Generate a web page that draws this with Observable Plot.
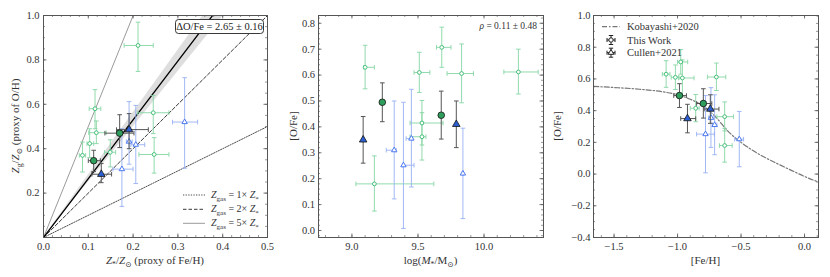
<!DOCTYPE html>
<html><head><meta charset="utf-8">
<script src="https://cdn.jsdelivr.net/npm/d3@7"></script>
<script src="https://cdn.jsdelivr.net/npm/@observablehq/plot@0.6"></script>
<style>
body{margin:0;background:#fff;}
#wrap{position:relative;width:830px;height:277px;overflow:hidden;}
#wrap svg{position:absolute;top:0;}
</style></head><body><div id="wrap"></div>
<script>
// ---------- Panel 1 data: Z*/Zsun (x) vs Zg/Zsun (y) ----------
const p1_tw_x   = [0.211, 0.115, 0.118, 0.103, 0.087, 0.149, 0.245, 0.247];
const p1_tw_xlo = [0.180, 0.102, 0.101, 0.097, 0.080, 0.136, 0.210, 0.213];
const p1_tw_xhi = [0.245, 0.128, 0.140, 0.112, 0.094, 0.161, 0.280, 0.280];
const p1_tw_y   = [0.865, 0.580, 0.472, 0.423, 0.370, 0.384, 0.562, 0.374];
const p1_tw_ylo = [0.748, 0.490, 0.423, 0.360, 0.295, 0.318, 0.468, 0.290];
const p1_tw_yhi = [0.970, 0.666, 0.525, 0.490, 0.430, 0.440, 0.640, 0.450];

const p1_cu_x   = [0.315, 0.191, 0.206, 0.175];
const p1_cu_xlo = [0.288, 0.185, 0.195, 0.155];
const p1_cu_xhi = [0.344, 0.198, 0.226, 0.200];
const p1_cu_y   = [0.520, 0.432, 0.418, 0.308];
const p1_cu_ylo = [0.312, 0.330, 0.243, 0.140];
const p1_cu_yhi = [0.720, 0.612, 0.595, 0.490];

const p1_twS_x   = [0.112, 0.170];
const p1_twS_xlo = [0.100, 0.137];
const p1_twS_xhi = [0.127, 0.202];
const p1_twS_y   = [0.346, 0.470];
const p1_twS_ylo = [0.297, 0.405];
const p1_twS_yhi = [0.393, 0.553];

const p1_cuS_x   = [0.129, 0.191];
const p1_cuS_xlo = [0.108, 0.163];
const p1_cuS_xhi = [0.152, 0.234];
const p1_cuS_y   = [0.285, 0.486];
const p1_cuS_ylo = [0.247, 0.400];
const p1_cuS_yhi = [0.333, 0.558];

const gasRatios = [1, 2, 5];
const fitSlope = 2.65, fitErr = 0.16;
const lineX = [0, 0.5];

// ---------- Panel 2 data: log(M*/Msun) (x) vs [O/Fe] (y) ----------
const p2_tw_x   = [9.10, 9.51, 9.68, 9.83, 10.26, 9.53, 9.53, 9.17];
const p2_tw_xlo = [9.09, 9.47, 9.64, 9.72, 10.15, 9.44, 9.44, 9.03];
const p2_tw_xhi = [9.17, 9.59, 9.75, 9.92, 10.41, 9.69, 9.56, 9.62];
const ofe_tw    = [0.630, 0.610, 0.707, 0.606, 0.612, 0.415, 0.362, 0.180];
const ofe_tw_lo = [0.547, 0.533, 0.630, 0.493, 0.527, 0.330, 0.272, 0.075];
const ofe_tw_hi = [0.715, 0.688, 0.785, 0.720, 0.700, 0.502, 0.455, 0.288];

const p2_cu_x   = [9.32, 9.39, 9.45, 9.84];
const p2_cu_xlo = [9.26, 9.385, 9.41, 9.835];
const p2_cu_xhi = [9.335, 9.47, 9.46, 9.845];
const ofe_cu    = [0.310, 0.252, 0.355, 0.220];
const ofe_cu_lo = [0.122, 0.008, 0.168, 0.046];
const ofe_cu_hi = [0.500, 0.495, 0.545, 0.395];

const p2_twS_x  = [9.23, 9.676];
const ofe_twS    = [0.495, 0.445];
const ofe_twS_lo = [0.420, 0.353];
const ofe_twS_hi = [0.570, 0.538];
const p2_cuS_x  = [9.085, 9.79];
const ofe_cuS    = [0.350, 0.410];
const ofe_cuS_lo = [0.260, 0.320];
const ofe_cuS_hi = [0.440, 0.500];

// ---------- Panel 3 data: [Fe/H] (x) vs [O/Fe] (y) ----------
const p3_tw_x   = [-1.09, -1.017, -0.975, -0.962, -0.694, -0.857, -0.629, -0.629];
const p3_tw_xlo = [-1.12, -1.05, -1.00, -0.99, -0.765, -0.90, -0.69, -0.67];
const p3_tw_xhi = [-1.06, -0.99, -0.92, -0.87, -0.62, -0.83, -0.56, -0.57];
const p3_cu_x   = [-0.708, -0.780, -0.737, -0.514];
const p3_cu_xlo = [-0.725, -0.85, -0.755, -0.55];
const p3_cu_xhi = [-0.690, -0.71, -0.720, -0.48];
const p3_twS_x   = [-0.985, -0.797];
const p3_twS_xlo = [-1.03, -0.85];
const p3_twS_xhi = [-0.93, -0.73];
const p3_cuS_x   = [-0.922, -0.742];
const p3_cuS_xlo = [-0.975, -0.79];
const p3_cuS_xhi = [-0.857, -0.674];

const kob_x = [-1.66, -1.5, -1.3, -1.1, -1.0, -0.9, -0.8, -0.7, -0.6, -0.5, -0.4, -0.3, -0.2, -0.1, 0.0, 0.11];
const kob_y = [0.553, 0.546, 0.535, 0.517, 0.500, 0.472, 0.430, 0.360, 0.268, 0.200, 0.145, 0.100, 0.060, 0.022, -0.015, -0.050];

// ---------- tick labels ----------
const p1_xticks = [0, 0.1, 0.2, 0.3, 0.4, 0.5];
const p1_yticks = [0.2, 0.4, 0.6, 0.8, 1.0];
const p2_xticks = [9.0, 9.5, 10.0];
const p2_yticks = [0, 0.1, 0.2, 0.3, 0.4, 0.5, 0.6, 0.7, 0.8];
const p3_xticks = [-1.5, -1.0, -0.5, 0.0];
const p3_yticks = [-0.4, -0.2, 0, 0.2, 0.4, 0.6, 0.8, 1.0];

// ---------- styles ----------
const FONT = "'Liberation Serif', 'DejaVu Serif', serif";
const AX = "#555";
const G_EDGE = "#45c07a", G_ERR = "#86d6a4", G_FILL = "#2f9e5c";
const B_EDGE = "#4c79ee", B_ERR = "#98b0f4", B_FILL = "#2c5fd1";
const BIG_ERR = "#555";

const capH = {draw(ctx){ ctx.moveTo(-2.3, 0); ctx.lineTo(2.3, 0); }};
const capV = {draw(ctx){ ctx.moveTo(0, -2.3); ctx.lineTo(0, 2.3); }};

function rng(a, b, s){ const out=[]; for (let v=a; v<=b+1e-9; v+=s) out.push(+v.toFixed(4)); return out; }

function errMarks(X, XL, XH, Y, YL, YH, color, sw=1, op=1) {
  const idx = d3.range(X.length);
  const m = [];
  if (XL) {
    m.push(Plot.link(idx, {x1: i=>XL[i], x2: i=>XH[i], y1: i=>Y[i], y2: i=>Y[i], stroke: color, strokeWidth: sw, strokeOpacity: op}));
    m.push(Plot.dot(idx, {x: i=>XL[i], y: i=>Y[i], symbol: capV, fill: "none", stroke: color, strokeWidth: sw, strokeOpacity: op}));
    m.push(Plot.dot(idx, {x: i=>XH[i], y: i=>Y[i], symbol: capV, fill: "none", stroke: color, strokeWidth: sw, strokeOpacity: op}));
  }
  m.push(Plot.link(idx, {x1: i=>X[i], x2: i=>X[i], y1: i=>YL[i], y2: i=>YH[i], stroke: color, strokeWidth: sw, strokeOpacity: op}));
  m.push(Plot.dot(idx, {x: i=>X[i], y: i=>YL[i], symbol: capH, fill: "none", stroke: color, strokeWidth: sw, strokeOpacity: op}));
  m.push(Plot.dot(idx, {x: i=>X[i], y: i=>YH[i], symbol: capH, fill: "none", stroke: color, strokeWidth: sw, strokeOpacity: op}));
  return m;
}
function pts(X, Y, sym, r, fill, stroke, sw) {
  const idx = d3.range(X.length);
  return Plot.dot(idx, {x: i=>X[i], y: i=>Y[i], symbol: sym, r, fill, stroke, strokeWidth: sw});
}

const MT = 15, MB = 40, H = 277;
function panel(cfg) {
  const pw = cfg.width - cfg.ml - cfg.mr, ph = H - MT - MB;
  const inDom = (d, dom) => v => v >= dom[0] - 1e-9 && v <= dom[1] + 1e-9;
  const xMaj = cfg.xMaj.filter(inDom(0, cfg.xdom)), xMin = cfg.xMin.filter(inDom(0, cfg.xdom));
  const yMaj = cfg.yMaj.filter(inDom(0, cfg.ydom)), yMin = cfg.yMin.filter(inDom(0, cfg.ydom));
  const TL = 3.5, TS = 2;
  const tickMarks = [
    Plot.ruleX(xMaj, {insetTop: ph - TL, stroke: AX, strokeWidth: 0.8}),
    Plot.ruleX(xMaj, {insetBottom: ph - TL, stroke: AX, strokeWidth: 0.8}),
    Plot.ruleX(xMin, {insetTop: ph - TS, stroke: AX, strokeWidth: 0.6}),
    Plot.ruleX(xMin, {insetBottom: ph - TS, stroke: AX, strokeWidth: 0.6}),
    Plot.ruleY(yMaj, {insetRight: pw - TL, stroke: AX, strokeWidth: 0.8}),
    Plot.ruleY(yMaj, {insetLeft: pw - TL, stroke: AX, strokeWidth: 0.8}),
    Plot.ruleY(yMin, {insetRight: pw - TS, stroke: AX, strokeWidth: 0.6}),
    Plot.ruleY(yMin, {insetLeft: pw - TS, stroke: AX, strokeWidth: 0.6})
  ];
  const svg = Plot.plot({
    width: cfg.width, height: H,
    marginLeft: cfg.ml, marginRight: cfg.mr, marginTop: MT, marginBottom: MB,
    style: {fontFamily: FONT, fontSize: "10.5px", color: "#333", background: "white", overflow: "visible"},
    x: {domain: cfg.xdom, ticks: cfg.xLabels, tickSize: 0, tickPadding: 5, tickFormat: cfg.xfmt, label: null},
    y: {domain: cfg.ydom, ticks: cfg.yLabels, tickSize: 0, tickPadding: cfg.ypad ?? 4, tickFormat: cfg.yfmt, label: null},
    marks: [...cfg.marks, ...tickMarks, Plot.frame({stroke: AX, strokeWidth: 1})]
  });
  svg.style.left = cfg.left + "px";
  document.getElementById("wrap").appendChild(svg);
  return d3.select(svg);
}

function rich(parent, segs, attrs) {
  const t = parent.append("text").attr("text-anchor", "start");
  for (const [k, v] of Object.entries(attrs)) t.attr(k, v);
  let shift = 0;
  for (const s of segs) {
    const ts = t.append("tspan").text(s.t);
    const want = s.sub ? 2.6 : 0;
    if (want !== shift) { ts.attr("dy", want - shift); shift = want; }
    if (s.it) ts.attr("font-style", "italic");
    if (s.sub) ts.attr("font-size", "0.7em");
  }
  return t;
}
const fmt1 = d3.format(".1f");

// ================= Panel 1 =================
{
  const band = Plot.areaY(lineX, {x: d=>d, y1: d=>d*(fitSlope-fitErr), y2: d=>d*(fitSlope+fitErr), fill: "#c8c8c8", fillOpacity: 0.6, clip: true});
  const styles = {1: {stroke:"#222", strokeWidth:0.8, strokeDasharray:"1.3,1.3"},
                  2: {stroke:"#222", strokeWidth:0.9, strokeDasharray:"3.5,2"},
                  5: {stroke:"#555", strokeWidth:0.6}};
  const ratioLines = gasRatios.map(k => Plot.line(lineX, {x: d=>d, y: d=>k*d, clip: true, ...styles[k]}));
  const fitLine = Plot.line(lineX, {x: d=>d, y: d=>fitSlope*d, stroke: "#000", strokeWidth: 1.3, clip: true});
  const s = panel({
    left: 0, width: 277, ml: 43, mr: 10,
    xdom: [0, 0.5], ydom: [0, 1.0],
    xLabels: p1_xticks, yLabels: p1_yticks, xfmt: fmt1, yfmt: fmt1,
    xMaj: p1_xticks, xMin: rng(0, 0.5, 0.02), yMaj: rng(0, 1, 0.2), yMin: rng(0, 1, 0.05),
    marks: [
      band, ...ratioLines, fitLine,
      ...errMarks(p1_tw_x, p1_tw_xlo, p1_tw_xhi, p1_tw_y, p1_tw_ylo, p1_tw_yhi, G_ERR, 1, 0.9),
      ...errMarks(p1_cu_x, p1_cu_xlo, p1_cu_xhi, p1_cu_y, p1_cu_ylo, p1_cu_yhi, B_ERR, 1, 0.9),
      pts(p1_tw_x, p1_tw_y, "circle", 1.9, "white", G_EDGE, 1),
      pts(p1_cu_x, p1_cu_y, "triangle", 2.0, "white", B_EDGE, 1),
      ...errMarks(p1_twS_x, p1_twS_xlo, p1_twS_xhi, p1_twS_y, p1_twS_ylo, p1_twS_yhi, BIG_ERR, 1, 1),
      ...errMarks(p1_cuS_x, p1_cuS_xlo, p1_cuS_xhi, p1_cuS_y, p1_cuS_ylo, p1_cuS_yhi, BIG_ERR, 1, 1),
      pts(p1_twS_x, p1_twS_y, "circle", 3.3, G_FILL, "#111", 0.8),
      pts(p1_cuS_x, p1_cuS_y, "triangle", 2.8, B_FILL, "#111", 0.8)
    ]
  });
  rich(s, [{t:"Z",it:1},{t:"*",sub:1},{t:"/"},{t:"Z",it:1},{t:"⊙",sub:1},{t:" (proxy of Fe/H)"}],
       {x: 155, y: 264, "text-anchor": "middle", "font-family": FONT, "font-size": 11, fill: "#333"});
  rich(s, [{t:"Z",it:1},{t:"g",sub:1},{t:"/"},{t:"Z",it:1},{t:"⊙",sub:1},{t:" (proxy of O/H)"}],
       {transform: "translate(19,126) rotate(-90)", "text-anchor": "middle", "font-family": FONT, "font-size": 11, fill: "#333"});
  // annotation box
  s.append("rect").attr("x", 175.5).attr("y", 19.5).attr("width", 88).attr("height", 14).attr("rx", 3)
    .attr("fill", "white").attr("stroke", "#222").attr("stroke-width", 0.9);
  s.append("text").attr("x", 219.5).attr("y", 30).attr("text-anchor", "middle")
    .attr("font-family", FONT).attr("font-size", 10.5).attr("fill", "#222").text("ΔO/Fe = 2.65 ± 0.16");
  // legend
  const legY = [195, 209.3, 223.3];
  const legSt = [{d:"1.3,1.3", w:0.8, c:"#222"}, {d:"3.5,2", w:0.9, c:"#222"}, {d:null, w:0.6, c:"#555"}];
  gasRatios.forEach((k, i) => {
    const l = s.append("line").attr("x1", 183).attr("x2", 205).attr("y1", legY[i]).attr("y2", legY[i])
      .attr("stroke", legSt[i].c).attr("stroke-width", legSt[i].w);
    if (legSt[i].d) l.attr("stroke-dasharray", legSt[i].d);
    rich(s, [{t:"Z",it:1},{t:"gas",sub:1},{t:" = " + k + "× "},{t:"Z",it:1},{t:"*",sub:1}],
      {x: 211, y: legY[i] + 3, "font-family": FONT, "font-size": 10, fill: "#333"});
  });
}

// ================= Panel 2 =================
{
  const s = panel({
    left: 277, width: 277, ml: 41, mr: 11,
    xdom: [8.747, 10.45], ydom: [-0.027, 0.83],
    xLabels: p2_xticks, yLabels: p2_yticks, xfmt: fmt1, yfmt: fmt1, ypad: 3.5,
    xMaj: p2_xticks, xMin: rng(8.8, 10.4, 0.1), yMaj: p2_yticks, yMin: rng(-0.02, 0.82, 0.02),
    marks: [
      ...errMarks(p2_tw_x, p2_tw_xlo, p2_tw_xhi, ofe_tw, ofe_tw_lo, ofe_tw_hi, G_ERR, 1, 0.9),
      ...errMarks(p2_cu_x, p2_cu_xlo, p2_cu_xhi, ofe_cu, ofe_cu_lo, ofe_cu_hi, B_ERR, 1, 0.9),
      pts(p2_tw_x, ofe_tw, "circle", 1.9, "white", G_EDGE, 1),
      pts(p2_cu_x, ofe_cu, "triangle", 2.0, "white", B_EDGE, 1),
      ...errMarks(p2_twS_x, null, null, ofe_twS, ofe_twS_lo, ofe_twS_hi, BIG_ERR, 1, 1),
      ...errMarks(p2_cuS_x, null, null, ofe_cuS, ofe_cuS_lo, ofe_cuS_hi, BIG_ERR, 1, 1),
      pts(p2_twS_x, ofe_twS, "circle", 3.3, G_FILL, "#111", 0.8),
      pts(p2_cuS_x, ofe_cuS, "triangle", 2.8, B_FILL, "#111", 0.8)
    ]
  });
  rich(s, [{t:"log("},{t:"M",it:1},{t:"*",sub:1},{t:"/M"},{t:"⊙",sub:1},{t:")"}],
       {x: 153.5, y: 264, "text-anchor": "middle", "font-family": FONT, "font-size": 11, fill: "#333"});
  s.append("text").attr("transform", "translate(20,126) rotate(-90)").attr("text-anchor", "middle")
    .attr("font-family", FONT).attr("font-size", 11).attr("fill", "#333").text("[O/Fe]");
  rich(s, [{t:"ρ",it:1},{t:" = 0.11 ± 0.48"}],
       {x: 260, y: 29, "text-anchor": "end", "font-family": FONT, "font-size": 9.5, fill: "#333"});
}

// ================= Panel 3 =================
{
  const s = panel({
    left: 554, width: 276, ml: 39, mr: 12,
    xdom: [-1.662, 0.11], ydom: [-0.4, 1.0],
    xLabels: p3_xticks, yLabels: p3_yticks, xfmt: fmt1, yfmt: fmt1, ypad: 3,
    xMaj: p3_xticks, xMin: rng(-1.6, 0.1, 0.1), yMaj: p3_yticks, yMin: rng(-0.4, 1.0, 0.05),
    marks: [
      Plot.line(d3.range(kob_x.length), {x: i=>kob_x[i], y: i=>kob_y[i], stroke: "#777", strokeWidth: 1.2, strokeDasharray: "5,2,1.5,2", curve: "monotone-x", clip: true}),
      ...errMarks(p3_tw_x, p3_tw_xlo, p3_tw_xhi, ofe_tw, ofe_tw_lo, ofe_tw_hi, G_ERR, 1, 0.9),
      ...errMarks(p3_cu_x, p3_cu_xlo, p3_cu_xhi, ofe_cu, ofe_cu_lo, ofe_cu_hi, B_ERR, 1, 0.9),
      pts(p3_tw_x, ofe_tw, "circle", 1.9, "white", G_EDGE, 1),
      pts(p3_cu_x, ofe_cu, "triangle", 2.0, "white", B_EDGE, 1),
      ...errMarks(p3_twS_x, p3_twS_xlo, p3_twS_xhi, ofe_twS, ofe_twS_lo, ofe_twS_hi, BIG_ERR, 1, 1),
      ...errMarks(p3_cuS_x, p3_cuS_xlo, p3_cuS_xhi, ofe_cuS, ofe_cuS_lo, ofe_cuS_hi, BIG_ERR, 1, 1),
      pts(p3_twS_x, ofe_twS, "circle", 3.3, G_FILL, "#111", 0.8),
      pts(p3_cuS_x, ofe_cuS, "triangle", 2.8, B_FILL, "#111", 0.8)
    ]
  });
  s.append("text").attr("x", 151.5).attr("y", 264).attr("text-anchor", "middle")
    .attr("font-family", FONT).attr("font-size", 11).attr("fill", "#333").text("[Fe/H]");
  s.append("text").attr("transform", "translate(7,126) rotate(-90)").attr("text-anchor", "middle")
    .attr("font-family", FONT).attr("font-size", 11).attr("fill", "#333").text("[O/Fe]");
  // legend
  const lx = 56, ly = [26.7, 40, 52.7];
  s.append("line").attr("x1", lx - 8).attr("x2", lx + 10).attr("y1", ly[0]).attr("y2", ly[0])
    .attr("stroke", "#777").attr("stroke-width", 1.2).attr("stroke-dasharray", "5,2,1.5,2");
  const cx = lx + 1;
  [1, 2].forEach(i => {
    const g = s.append("g").attr("stroke", "#222").attr("stroke-width", 1).attr("fill", "none");
    const y = ly[i];
    g.append("path").attr("d", `M${cx-4},${y}H${cx+4}M${cx},${y-4.5}V${y+4.5}M${cx-4},${y-2}V${y+2}M${cx+4},${y-2}V${y+2}M${cx-2.2},${y-4.5}H${cx+2.2}M${cx-2.2},${y+4.5}H${cx+2.2}`);
    if (i === 1) g.append("circle").attr("cx", cx).attr("cy", y).attr("r", 2.2).attr("fill", "white");
    else g.append("path").attr("d", d3.symbol(d3.symbolTriangle, 14)()).attr("transform", `translate(${cx},${y})`).attr("fill", "white");
  });
  const labs = ["Kobayashi+2020", "This Work", "Cullen+2021"];
  labs.forEach((t, i) => s.append("text").attr("x", lx + 17).attr("y", ly[i] + 3.5).attr("text-anchor", "start")
    .attr("font-family", FONT).attr("font-size", 10.5).attr("fill", "#333").text(t));
}
</script></body></html>
